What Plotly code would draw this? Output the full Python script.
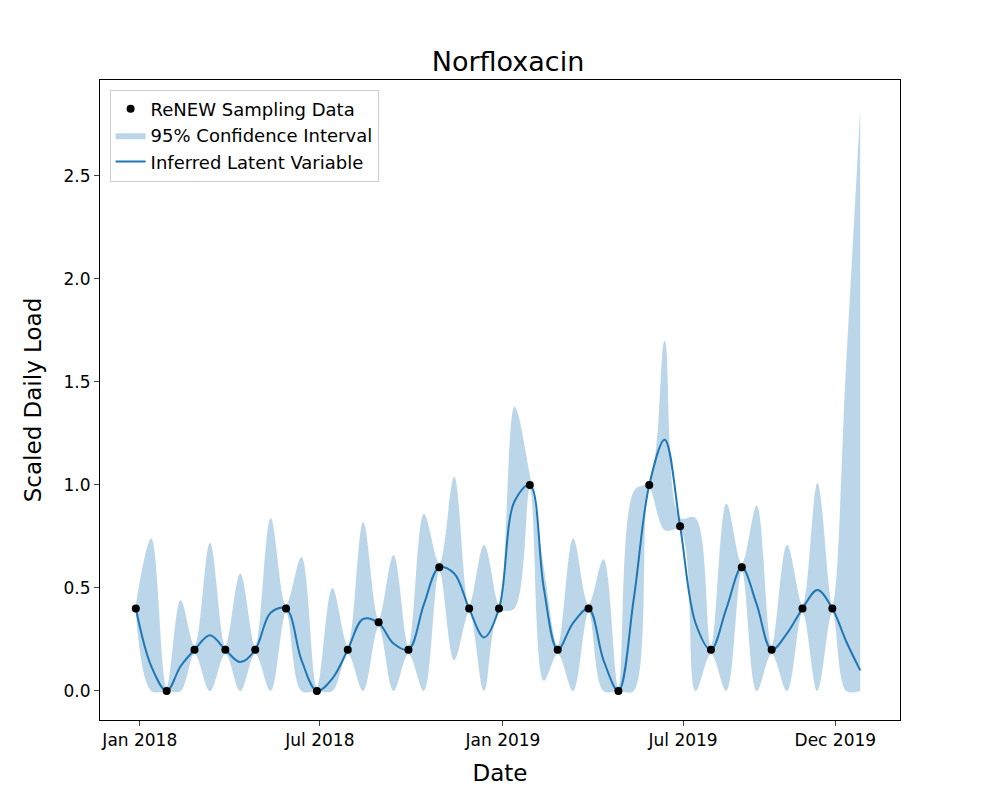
import pandas as pd
import plotly.graph_objects as go

# ReNEW sampling data (monthly)
sample_dates = pd.to_datetime([
    "2017-12-28", "2018-01-28", "2018-02-25", "2018-03-28", "2018-04-27", "2018-05-28",
    "2018-06-28", "2018-07-29", "2018-08-29", "2018-09-28", "2018-10-29", "2018-11-28",
    "2018-12-28", "2019-01-28", "2019-02-25", "2019-03-28", "2019-04-27", "2019-05-28",
    "2019-06-28", "2019-07-29", "2019-08-29", "2019-09-28", "2019-10-29", "2019-11-28"])
sample_values = [0.40, 0.00, 0.20, 0.20, 0.20, 0.40, 0.00, 0.20, 0.333, 0.20, 0.60, 0.40,
                 0.40, 1.00, 0.20, 0.40, 0.00, 1.00, 0.80, 0.20, 0.60, 0.20, 0.40, 0.40]

# latent variable read at samples and half-way between them, plus the end point
latent = [0.40, 0.12, 0.00, 0.12, 0.20, 0.27, 0.20, 0.14, 0.20, 0.38, 0.40, 0.15,
          0.00, 0.06, 0.20, 0.35, 0.33, 0.23, 0.20, 0.42, 0.60, 0.57, 0.40, 0.26,
          0.40, 0.92, 1.00, 0.50, 0.20, 0.33, 0.40, 0.15, 0.00, 0.45, 1.00, 1.22,
          0.80, 0.33, 0.20, 0.40, 0.60, 0.42, 0.20, 0.28, 0.40, 0.49, 0.40, 0.24, 0.10]
upper = [0.42, 0.74, 0.02, 0.44, 0.22, 0.72, 0.22, 0.57, 0.22, 0.84, 0.42, 0.65,
         0.02, 0.50, 0.22, 0.82, 0.35, 0.66, 0.22, 0.86, 0.62, 1.04, 0.42, 0.71,
         0.42, 1.38, 1.05, 0.60, 0.22, 0.74, 0.42, 0.64, 0.02, 0.97, 1.02, 1.70,
         0.84, 0.84, 0.22, 0.91, 0.62, 0.90, 0.22, 0.71, 0.42, 1.01, 0.42, 1.60, 2.82]
lower = [0.38, 0.00, 0.00, 0.00, 0.18, 0.00, 0.18, 0.00, 0.18, 0.00, 0.38, 0.00,
         0.00, 0.00, 0.18, 0.00, 0.31, 0.00, 0.18, 0.00, 0.58, 0.15, 0.38, 0.00,
         0.38, 0.40, 0.98, 0.05, 0.18, 0.00, 0.38, 0.00, 0.00, 0.00, 0.98, 0.78,
         0.78, 0.00, 0.18, 0.00, 0.58, 0.00, 0.18, 0.00, 0.38, 0.00, 0.38, 0.00, 0.00]

end_date = pd.Timestamp("2019-12-26")
grid = []
for i, d in enumerate(sample_dates):
    grid.append(d)
    nxt = sample_dates[i + 1] if i + 1 < len(sample_dates) else end_date
    grid.append(d + (nxt - d) / 2)
grid.append(end_date)

blue = "#1f77b4"
fig = go.Figure()
fig.add_trace(go.Scatter(x=grid, y=lower, mode="lines", line=dict(width=0, shape="spline"),
                         showlegend=False, hoverinfo="skip"))
fig.add_trace(go.Scatter(x=grid, y=upper, mode="lines", line=dict(width=0, shape="spline"),
                         fill="tonexty", fillcolor="rgba(31,119,180,0.3)",
                         name="95% Confidence Interval", legendrank=2))
fig.add_trace(go.Scatter(x=grid, y=latent, mode="lines", line=dict(color=blue, width=2, shape="spline"),
                         name="Inferred Latent Variable", legendrank=1))
fig.add_trace(go.Scatter(x=sample_dates, y=sample_values, mode="markers",
                         marker=dict(color="black", size=8),
                         error_y=dict(type="constant", value=0.0, color="black", width=0),
                         name="ReNEW Sampling Data", legendrank=3))

fig.update_layout(
    width=1000, height=800, template="plotly_white",
    font=dict(family="DejaVu Sans", size=17, color="black"),
    title=dict(text="Norfloxacin", x=0.5, y=0.945, font=dict(size=27)),
    margin=dict(l=92, r=108, t=72, b=88),
    plot_bgcolor="white",
    legend=dict(x=0.012, y=0.985, bgcolor="white", bordercolor="#cccccc", borderwidth=1,
                font=dict(size=18)),
)
fig.update_xaxes(title=dict(text="Date", font=dict(size=23)), range=["2017-11-22", "2020-02-04"],
                 tickvals=["2018-01-01", "2018-07-01", "2019-01-01", "2019-07-01", "2019-12-01"],
                 ticktext=["Jan 2018", "Jul 2018", "Jan 2019", "Jul 2019", "Dec 2019"],
                 showgrid=False, showline=True, linecolor="black", mirror=True,
                 ticks="outside", tickfont=dict(size=17))
fig.update_yaxes(title=dict(text="Scaled Daily Load", font=dict(size=23)), range=[-0.141, 2.966],
                 tickvals=[0, 0.5, 1, 1.5, 2, 2.5], tickformat=".1f",
                 showgrid=False, zeroline=False, showline=True, linecolor="black", mirror=True,
                 ticks="outside", tickfont=dict(size=17))

fig.write_html("out.html")
